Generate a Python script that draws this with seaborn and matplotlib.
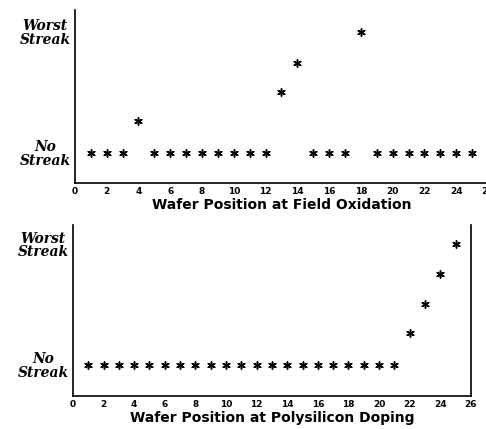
import matplotlib
matplotlib.use("Agg")
import matplotlib.pyplot as plt
import seaborn as sns
import pandas as pd

sns.set_theme(style="white")
plt.rcParams['font.family'] = ['DejaVu Sans']
plt.rcParams['text.color'] = 'black'
plt.rcParams['axes.labelcolor'] = 'black'
plt.rcParams['xtick.color'] = 'black'
plt.rcParams['ytick.color'] = 'black'

positions = list(range(1, 26))
field_ox = [0, 0, 0, 0.26, 0, 0, 0, 0, 0, 0, 0, 0, 0.50, 0.74, 0, 0, 0, 1.0,
            0, 0, 0, 0, 0, 0, 0]
poly_dop = [0, 0, 0, 0, 0, 0, 0, 0, 0, 0, 0, 0, 0, 0, 0, 0, 0, 0, 0, 0, 0,
            0.26, 0.50, 0.75, 1.0]
x_ticks = list(range(0, 27, 2))
y_tick_vals = [0, 1]
y_tick_labels = ["No\nStreak", "Worst\nStreak"]
xlabels = ["Wafer Position at Field Oxidation", "Wafer Position at Polysilicon Doping"]

fig = plt.figure(figsize=(4.86, 4.29), dpi=100)
ax1 = fig.add_axes([0.154, 0.573, 0.85, 0.404])
ax2 = fig.add_axes([0.150, 0.077, 0.819, 0.399])

asterisk = (6, 2, 0)
for ax, vals, xl, ylim in [(ax1, field_ox, xlabels[0], (-0.25, 1.18)),
                           (ax2, poly_dop, xlabels[1], (-0.26, 1.16))]:
    df = pd.DataFrame({"pos": positions, "val": vals})
    sns.scatterplot(data=df, x="pos", y="val", ax=ax, marker=asterisk,
                    s=28, color="black", edgecolor="black", linewidth=1.1)
    ax.set_xlim(0, 26)
    ax.set_ylim(*ylim)
    ax.set_xticks(x_ticks)
    ax.set_xticklabels([str(t) for t in x_ticks], fontsize=6.5, fontweight="bold")
    ax.set_yticks(y_tick_vals)
    ax.set_yticklabels(y_tick_labels, fontsize=10, fontweight="bold",
                       fontstyle="italic", family="DejaVu Serif",
                       linespacing=0.95, multialignment="center")
    ax.set_xlabel(xl, fontsize=10, fontweight="bold", labelpad=1, color="black")
    ax.set_ylabel("")
    ax.tick_params(axis="both", direction="in", length=3, width=0.8,
                   colors="black", pad=3)
    ax.tick_params(axis="y", length=0, pad=3)
    for side in ["left", "bottom", "right"]:
        ax.spines[side].set_color("black")
        ax.spines[side].set_linewidth(1.2)
    ax.spines["top"].set_visible(False)
    ax.set_facecolor("white")

ax1.spines["right"].set_visible(False)

fig.savefig("out.png", dpi=100, facecolor="white")
